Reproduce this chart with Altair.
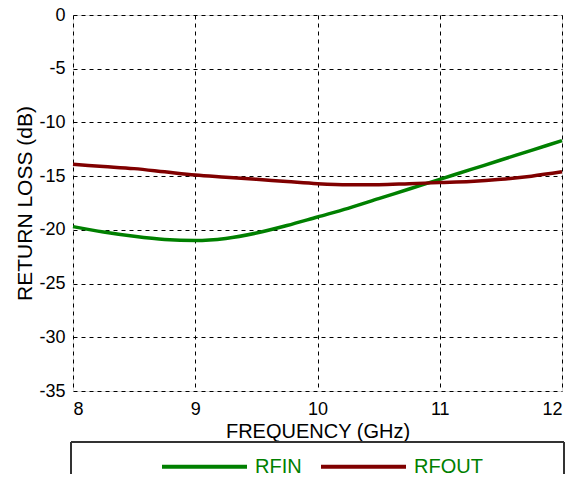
import altair as alt
import pandas as pd

freq = [8.0, 8.25, 8.5, 8.75, 9.0, 9.25, 9.5, 9.75, 10.0, 10.25, 10.5, 10.75, 11.0, 11.25, 11.5, 11.75, 12.0]
rfin = [-19.7, -20.2, -20.6, -20.9, -21.0, -20.8, -20.3, -19.6, -18.8, -18.0, -17.1, -16.2, -15.3, -14.4, -13.5, -12.6, -11.7]
rfout = [-13.9, -14.1, -14.3, -14.6, -14.9, -15.1, -15.3, -15.5, -15.7, -15.8, -15.8, -15.7, -15.6, -15.5, -15.3, -15.0, -14.6]
series = ["RFIN", "RFOUT"]
colors = ["#008000", "#800000"]

rows = []
for f, a, b in zip(freq, rfin, rfout):
    rows.append({"freq": f, "rl": a, "series": series[0]})
    rows.append({"freq": f, "rl": b, "series": series[1]})
df = pd.DataFrame(rows)

FONT = "Liberation Sans"
W, H = 489, 376

lines = alt.Chart(df).mark_line(strokeWidth=3.5, interpolate="monotone").encode(
    x=alt.X("freq:Q", scale=alt.Scale(domain=[8, 12], nice=False, zero=False),
            axis=alt.Axis(title="FREQUENCY (GHz)", values=[8, 9, 10, 11, 12],
                          labelExpr="'' + datum.value",
                          grid=True, gridDash=[4, 4], gridColor="black", gridWidth=1,
                          ticks=False, domain=False, labelPadding=9, titlePadding=3,
                          labelFontSize=18, titleFontSize=20, labelFont=FONT, titleFont=FONT,
                          labelColor="black", titleColor="black", titleFontWeight="normal")),
    y=alt.Y("rl:Q", scale=alt.Scale(domain=[-35, 0], nice=False),
            axis=alt.Axis(title="RETURN LOSS (dB)", values=[0, -5, -10, -15, -20, -25, -30, -35],
                          labelExpr="'' + datum.value",
                          grid=True, gridDash=[4, 4], gridColor="black", gridWidth=1,
                          ticks=False, domain=False, labelPadding=8, titlePadding=3,
                          labelFontSize=18, titleFontSize=21, labelFont=FONT, titleFont=FONT,
                          labelColor="black", titleColor="black", titleFontWeight="normal")),
    color=alt.Color("series:N", scale=alt.Scale(domain=series, range=colors),
                    legend=alt.Legend(title=None, orient="none", direction="horizontal",
                                      legendX=87, legendY=407, symbolType="stroke",
                                      symbolSize=7225, symbolStrokeWidth=4,
                                      labelFontSize=20, labelFont=FONT, labelColor="#008000",
                                      labelOffset=6, columnPadding=11, padding=0)),
)

box_left = alt.Chart(df).mark_rule(color="#333333", strokeWidth=1, clip=False).encode(
    x=alt.value(-2), y=alt.value(427), y2=alt.value(467))
box_right = alt.Chart(df).mark_rule(color="#333333", strokeWidth=1, clip=False).encode(
    x=alt.value(491), y=alt.value(427), y2=alt.value(467))
box_top = alt.Chart(df).mark_rule(color="#333333", strokeWidth=1, clip=False).encode(
    x=alt.value(-2), x2=alt.value(491), y=alt.value(427))

chart = alt.layer(lines, box_left, box_right, box_top).properties(
    width=W, height=H,
    autosize=alt.AutoSizeParams(type="none"),
    padding={"left": 65, "top": 7, "right": 8, "bottom": 83}
).configure_view(stroke="black", strokeWidth=2).configure(background="white")

chart.save("out.html", embed_options={"renderer": "svg", "actions": False})
